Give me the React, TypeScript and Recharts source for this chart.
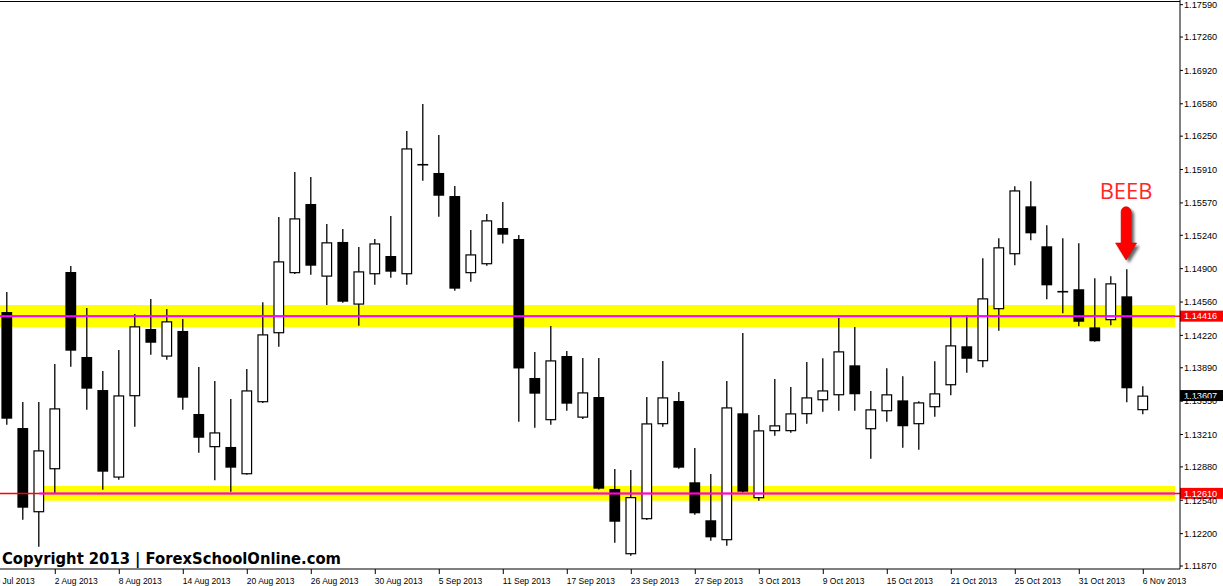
import React from 'react';
import { ComposedChart, Bar, XAxis, YAxis, ReferenceLine, ReferenceArea, Customized } from 'recharts';

// ---- data (daily candles, 30 Jul 2013 .. 6 Nov 2013) ----
const DATES = ['30 Jul','31 Jul','1 Aug','2 Aug','5 Aug','6 Aug','7 Aug','8 Aug','9 Aug','12 Aug','13 Aug','14 Aug','15 Aug','16 Aug','19 Aug','20 Aug','21 Aug','22 Aug','23 Aug','26 Aug','27 Aug','28 Aug','29 Aug','30 Aug','2 Sep','3 Sep','4 Sep','5 Sep','6 Sep','9 Sep','10 Sep','11 Sep','12 Sep','13 Sep','16 Sep','17 Sep','18 Sep','19 Sep','20 Sep','23 Sep','24 Sep','25 Sep','26 Sep','27 Sep','30 Sep','1 Oct','2 Oct','3 Oct','4 Oct','7 Oct','8 Oct','9 Oct','10 Oct','11 Oct','14 Oct','15 Oct','16 Oct','17 Oct','18 Oct','21 Oct','22 Oct','23 Oct','24 Oct','25 Oct','28 Oct','29 Oct','30 Oct','31 Oct','1 Nov','4 Nov','5 Nov','6 Nov'];

const OPEN = [1.14458,1.13276,1.12417,1.12855,1.14866,1.14000,1.13663,1.12770,1.13599,1.14285,1.14003,1.14265,1.13419,1.13080,1.13083,1.12804,1.13538,1.14241,1.14853,1.15559,1.14818,1.15172,1.14533,1.14842,1.15029,1.14842,1.15962,1.15875,1.15640,1.14853,1.14944,1.15314,1.15202,1.13786,1.13355,1.14010,1.13381,1.13592,1.12655,1.11989,1.12346,1.13314,1.13551,1.12723,1.12336,1.12132,1.13426,1.12560,1.13243,1.13243,1.13416,1.13558,1.13609,1.13915,1.13263,1.13446,1.13558,1.13314,1.13487,1.13711,1.14109,1.13956,1.14486,1.15046,1.15535,1.15128,1.14668,1.14690,1.14302,1.14374,1.14618,1.13457];

const HIGH = [1.14662,1.13541,1.13541,1.13928,1.14927,1.14499,1.13857,1.14071,1.14438,1.14591,1.14489,1.14387,1.13898,1.13755,1.13572,1.13877,1.14557,1.15426,1.15885,1.15834,1.15355,1.15304,1.15121,1.15202,1.15437,1.16303,1.16578,1.16262,1.15742,1.15294,1.15457,1.15579,1.15243,1.14051,1.14316,1.14061,1.13990,1.13990,1.12858,1.12848,1.13592,1.13959,1.13643,1.13072,1.12807,1.13755,1.14244,1.13409,1.13776,1.13694,1.13949,1.13986,1.14397,1.14305,1.13653,1.13885,1.13803,1.13548,1.13956,1.14414,1.14425,1.15006,1.15209,1.15739,1.15790,1.15342,1.15209,1.15158,1.14802,1.14822,1.14893,1.13701];

const LOW = [1.13310,1.12342,1.12067,1.12607,1.13901,1.13463,1.12648,1.12749,1.13290,1.14023,1.13972,1.13463,1.13025,1.12743,1.12627,1.12800,1.13530,1.14105,1.14845,1.14838,1.14530,1.14553,1.14319,1.14736,1.14808,1.14736,1.15796,1.15429,1.14675,1.14767,1.14930,1.15156,1.13340,1.13279,1.13310,1.13453,1.13368,1.12650,1.12107,1.11975,1.12340,1.13290,1.12862,1.12393,1.12128,1.12077,1.12620,1.12535,1.13198,1.13228,1.13320,1.13442,1.13453,1.13453,1.12963,1.13340,1.13076,1.13055,1.13391,1.13609,1.13840,1.13895,1.14268,1.14934,1.15189,1.14588,1.14445,1.14313,1.14155,1.14323,1.13538,1.13416];

const CLOSE = [1.13371,1.12464,1.13049,1.13477,1.14064,1.13677,1.12831,1.13609,1.14313,1.14145,1.14364,1.13585,1.13177,1.13232,1.12872,1.13660,1.14231,1.14975,1.15413,1.14930,1.15169,1.14563,1.14873,1.15158,1.14869,1.16126,1.15956,1.15643,1.14696,1.15046,1.15393,1.15246,1.13883,1.13626,1.13966,1.13524,1.13640,1.12658,1.12321,1.12573,1.13324,1.13589,1.12872,1.12407,1.12162,1.13487,1.12627,1.13253,1.13304,1.13426,1.13589,1.13660,1.14058,1.13620,1.13467,1.13620,1.13294,1.13538,1.13630,1.14119,1.13982,1.14598,1.15118,1.15698,1.15260,1.14730,1.14662,1.14359,1.14160,1.14751,1.13681,1.13607];

const X_TICK_POS = [-1,3,7,11,15,19,23,27,31,35,39,43,47,51,55,59,63,67,71];
const X_TICK_LABELS = ['29 Jul 2013','2 Aug 2013','8 Aug 2013','14 Aug 2013','20 Aug 2013','26 Aug 2013','30 Aug 2013','5 Sep 2013','11 Sep 2013','17 Sep 2013','23 Sep 2013','27 Sep 2013','3 Oct 2013','9 Oct 2013','15 Oct 2013','21 Oct 2013','25 Oct 2013','31 Oct 2013','6 Nov 2013'];
const Y_TICKS = [1.17590,1.17260,1.16920,1.16580,1.16250,1.15910,1.15570,1.15240,1.14900,1.14560,1.14220,1.13890,1.13550,1.13210,1.12880,1.12540,1.12200,1.11870];

const RESIST = 1.14416;
const SUPPORT = 1.12610;
const LAST_PRICE = 1.13607;
const RESIST_BAND = [1.14306, 1.14530];
const SUPPORT_BAND = [1.12535, 1.12685];
const SUPPORT_BAND_START = 2;
const BAND_END = 72.98;
const ARROW_INDEX = 70;
const ARROW_TOP = 1.15531;
const ARROW_TIP = 1.14988;

// ---- layout ----
const W = 1223;
const H = 586;
const PLOT_RIGHT = 1180;
const AXIS_Y = 569;
const X_MIN = -0.456;
const X_MAX = 73.294;
const Y_MIN = 1.1183943;
const Y_MAX = 1.1763754;
const FONT = 'Liberation Sans, Arial, sans-serif';

const data = DATES.map((d, i) => ({
  i,
  date: d,
  range: [LOW[i], HIGH[i]],
  open: OPEN[i],
  high: HIGH[i],
  low: LOW[i],
  close: CLOSE[i],
}));

function Candle(props: any) {
  const { x, y, width, height, payload } = props;
  if (!payload || !isFinite(x) || !isFinite(y)) return null;
  const { open, close, high, low } = payload;
  const cx = x + width / 2;
  const py = (p: number) => y + ((high - p) / (high - low)) * height;
  const top = py(Math.max(open, close));
  const bot = py(Math.min(open, close));
  const up = close > open;
  const half = 5.4;
  let body;
  if (bot - top < 1.5) {
    const m = (top + bot) / 2;
    body = <line x1={cx - half} x2={cx + half} y1={m} y2={m} stroke="#000" strokeWidth={1.6} />;
  } else if (up) {
    body = <rect x={cx - half + 0.6} y={top + 0.6} width={2 * half - 1.2} height={bot - top - 1.2} fill="#fff" stroke="#000" strokeWidth={1.2} />;
  } else {
    body = <rect x={cx - half} y={top} width={2 * half} height={bot - top} fill="#000" />;
  }
  return (
    <g>
      <line x1={cx} x2={cx} y1={y} y2={y + height} stroke="#000" strokeWidth={1.3} />
      {body}
    </g>
  );
}

function DateTick(props: any) {
  const { x, payload } = props;
  const idx = X_TICK_POS.indexOf(payload.value);
  const label = idx >= 0 ? X_TICK_LABELS[idx] : '';
  return (
    <g>
      <line x1={x} x2={x} y1={AXIS_Y} y2={AXIS_Y + 5} stroke="#000" strokeWidth={1} />
      <text x={x - 0.5} y={AXIS_Y + 14.5} fontSize={8.5} fontFamily={FONT} fill="#000">{label}</text>
    </g>
  );
}

const priceBox = (text: string, bg: string) => (props: any) => {
  const vb = props.viewBox || {};
  const yy = vb.y;
  if (!isFinite(yy)) return null;
  return (
    <g>
      <rect x={PLOT_RIGHT} y={yy - 5.5} width={W - PLOT_RIGHT} height={11} fill={bg} />
      <text x={PLOT_RIGHT + 4} y={yy} dy="0.35em" fontSize={9.2} fontFamily={FONT} fill="#fff">{text}</text>
    </g>
  );
};

function Arrow(props: any) {
  const { x1, y1, y2 } = props;
  if (!isFinite(x1)) return null;
  const cx = x1 - 1.2;
  const top = Math.min(y1, y2);
  const tip = Math.max(y1, y2);
  const d = `M ${cx - 5} ${top + 5} A 5 5 0 0 1 ${cx + 5} ${top + 5} L ${cx + 5} ${tip - 17} L ${cx + 10.5} ${tip - 17} L ${cx} ${tip} L ${cx - 10.5} ${tip - 17} L ${cx - 5} ${tip - 17} Z`;
  return (
    <g>
      <defs>
        <filter id="arrowShadow" x="-50%" y="-50%" width="200%" height="200%">
          <feGaussianBlur stdDeviation="1.6" />
        </filter>
      </defs>
      <path d={d} transform="translate(3,3)" fill="#000" opacity={0.6} filter="url(#arrowShadow)" />
      <path d={d} fill="#ff0000" stroke="#d00000" strokeWidth={0.6} />
      <text x={cx} y={top - 7.7} textAnchor="middle" fontSize={22} fontFamily="Open Sans, Liberation Sans, sans-serif" fill="#ff2626">BEEB</text>
    </g>
  );
}

function Overlay() {
  return (
    <g>
      <line x1={0} y1={1.5} x2={PLOT_RIGHT} y2={1.5} stroke="#000" strokeWidth={1} />
      <text x={2} y={563.5} fontSize={16.5} fontWeight="bold" fontFamily="DejaVu Sans, sans-serif" fill="#000" textLength={339} lengthAdjust="spacingAndGlyphs">Copyright 2013 | ForexSchoolOnline.com</text>
    </g>
  );
}

export default function App() {
  return (
    <div style={{ position: 'absolute', left: 0, top: 0, width: W, height: H, background: '#fff' }}>
      <ComposedChart width={W} height={H} data={data} margin={{ top: 0, right: 0, bottom: 0, left: 0 }}>
        <XAxis
          dataKey="i"
          type="number"
          domain={[X_MIN, X_MAX]}
          allowDataOverflow
          ticks={X_TICK_POS}
          interval={0}
          height={H - AXIS_Y}
          axisLine={{ stroke: '#000', strokeWidth: 1 }}
          tickLine={false}
          tick={<DateTick />}
        />
        <YAxis
          orientation="right"
          type="number"
          domain={[Y_MIN, Y_MAX]}
          allowDataOverflow
          ticks={Y_TICKS}
          interval={0}
          width={W - PLOT_RIGHT}
          tickSize={3}
          tickMargin={1}
          axisLine={{ stroke: '#000', strokeWidth: 1 }}
          tickLine={{ stroke: '#000' }}
          tick={{ fontSize: 9.2, fill: '#000', fontFamily: FONT }}
          tickFormatter={(v: number) => v.toFixed(5)}
        />
        <ReferenceLine y={RESIST} stroke="#ff0000" strokeWidth={1.5} />
        <ReferenceLine y={SUPPORT} stroke="#ff0000" strokeWidth={1.5} />
        <ReferenceArea x1={X_MIN} x2={BAND_END} y1={RESIST_BAND[0]} y2={RESIST_BAND[1]} fill="#ffff00" fillOpacity={1} stroke="none" ifOverflow="visible" />
        <ReferenceArea x1={SUPPORT_BAND_START} x2={BAND_END} y1={SUPPORT_BAND[0]} y2={SUPPORT_BAND[1]} fill="#ffff00" fillOpacity={1} stroke="none" ifOverflow="visible" />
        <ReferenceLine segment={[{ x: X_MIN, y: RESIST }, { x: BAND_END, y: RESIST }]} stroke="#ff00ff" strokeWidth={2} ifOverflow="visible" />
        <ReferenceLine segment={[{ x: SUPPORT_BAND_START, y: SUPPORT }, { x: BAND_END, y: SUPPORT }]} stroke="#ff00ff" strokeWidth={2} ifOverflow="visible" />
        <Bar dataKey="range" barSize={11} isAnimationActive={false} shape={(p: any) => <Candle {...p} />} />
        <ReferenceLine y={RESIST} stroke="none" strokeWidth={0} label={priceBox('1.14416', '#ff0000')} />
        <ReferenceLine y={SUPPORT} stroke="none" strokeWidth={0} label={priceBox('1.12610', '#ff0000')} />
        <ReferenceLine y={LAST_PRICE} stroke="none" strokeWidth={0} label={priceBox('1.13607', '#000000')} />
        <ReferenceLine segment={[{ x: ARROW_INDEX, y: ARROW_TOP }, { x: ARROW_INDEX, y: ARROW_TIP }]} ifOverflow="visible" shape={(p: any) => <Arrow {...p} />} />
        <Customized component={Overlay} />
      </ComposedChart>
    </div>
  );
}
